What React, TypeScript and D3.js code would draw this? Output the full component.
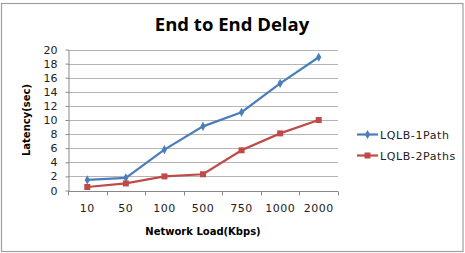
import React, { useEffect, useRef } from "react";
import * as d3 from "d3";

const categories = ["10", "50", "100", "500", "750", "1000", "2000"];
const onePath = [1.5, 1.8, 5.8, 9.1, 11.1, 15.2, 18.9];
const twoPaths = [0.5, 1.0, 2.0, 2.3, 5.7, 8.1, 10.0];
const seriesNames = ["LQLB-1Path", "LQLB-2Paths"];
const yTicks = [0, 2, 4, 6, 8, 10, 12, 14, 16, 18, 20];

function App() {
  const ref = useRef<SVGSVGElement>(null);

  useEffect(() => {
    const svg = d3.select(ref.current);
    svg.selectAll("*").remove();

    const width = 465;
    const height = 253;
    const margin = { top: 49.5, left: 68, right: 127, bottom: 62.5 };
    const font = "Tahoma, 'DejaVu Sans', sans-serif";

    // chart frame
    svg.append("rect")
      .attr("x", 1.5).attr("y", 3.5)
      .attr("width", width - 3.5).attr("height", height - 5)
      .attr("fill", "#fff").attr("stroke", "#a0a0a0").attr("stroke-width", 1.2);

    const x = d3.scaleBand().domain(categories).range([margin.left, width - margin.right]);
    const y = d3.scaleLinear().domain([0, 20]).range([height - margin.bottom, margin.top]);

    // gridlines
    svg.append("g")
      .selectAll("line")
      .data(yTicks.slice(1))
      .join("line")
      .attr("x1", margin.left).attr("x2", width - margin.right)
      .attr("y1", (d) => Math.round(y(d)) + 0.5).attr("y2", (d) => Math.round(y(d)) + 0.5)
      .attr("stroke", "#b4b4b4").attr("stroke-width", 1);

    // y axis
    const g_yaxis = svg.append("g")
      .attr("transform", `translate(${margin.left + 0.5},0)`)
      .call(d3.axisLeft(y).tickValues(yTicks).tickSize(3).tickSizeOuter(0));
    g_yaxis.select(".domain").attr("stroke", "#888");
    g_yaxis.selectAll(".tick line").attr("stroke", "#888");
    g_yaxis.selectAll("text")
      .attr("font-family", font).attr("font-size", 11).attr("fill", "#222")
      .attr("x", -11);

    // x axis, ticks between categories
    const y0 = Math.round(y(0)) + 0.5;
    const g_xaxis = svg.append("g");
    g_xaxis.append("line")
      .attr("x1", margin.left).attr("x2", width - margin.right)
      .attr("y1", y0).attr("y2", y0).attr("stroke", "#888");
    const bounds = categories.map((c) => x(c) as number).concat([width - margin.right]);
    g_xaxis.selectAll("line.tk")
      .data(bounds)
      .join("line")
      .attr("class", "tk")
      .attr("x1", (d) => Math.round(d) + 0.5).attr("x2", (d) => Math.round(d) + 0.5)
      .attr("y1", y0).attr("y2", y0 + 4)
      .attr("stroke", "#888");
    g_xaxis.selectAll("text")
      .data(categories)
      .join("text")
      .attr("x", (d) => (x(d) as number) + x.bandwidth() / 2)
      .attr("y", 212)
      .attr("text-anchor", "middle")
      .attr("font-family", font).attr("font-size", 11).attr("fill", "#222")
      .attr("letter-spacing", 0.5)
      .text((d) => d);

    // titles
    svg.append("text")
      .attr("x", 232).attr("y", 31)
      .attr("text-anchor", "middle")
      .attr("font-family", "'Open Sans', 'DejaVu Sans', sans-serif")
      .attr("font-weight", "bold").attr("font-size", 18.5)
      .text("End to End Delay");

    svg.append("text")
      .attr("x", 203).attr("y", 235)
      .attr("text-anchor", "middle")
      .attr("font-family", font).attr("font-weight", "bold").attr("font-size", 10)
      .text("Network Load(Kbps)");

    svg.append("text")
      .attr("transform", `translate(30,120) rotate(-90)`)
      .attr("text-anchor", "middle")
      .attr("font-family", font).attr("font-weight", "bold").attr("font-size", 10)
      .text("Latency(sec)");

    // lines
    const colors = ["#4A7EBB", "#BE4B48"];
    const series = [onePath, twoPaths];
    const cx = (i: number) => (x(categories[i]) as number) + x.bandwidth() / 2;
    const line = d3.line<number>().x((_, i) => cx(i)).y((d) => y(d));

    series.forEach((s, k) => {
      svg.append("path")
        .datum(s)
        .attr("d", line)
        .attr("fill", "none")
        .attr("stroke", colors[k])
        .attr("stroke-width", 2.2);
      if (k === 0) {
        svg.append("g").selectAll("path")
          .data(s)
          .join("path")
          .attr("d", d3.symbol(d3.symbolDiamond, 24) as any)
          .attr("transform", (d, i) => `translate(${cx(i)},${y(d)})`)
          .attr("fill", colors[k]);
      } else {
        svg.append("g").selectAll("rect")
          .data(s)
          .join("rect")
          .attr("x", (d, i) => cx(i) - 3).attr("y", (d) => y(d) - 3)
          .attr("width", 6).attr("height", 6)
          .attr("fill", colors[k]);
      }
    });

    // legend
    const legendY = [134.5, 155.5];
    seriesNames.forEach((name, k) => {
      const lg = svg.append("g");
      lg.append("line")
        .attr("x1", 357).attr("x2", 378)
        .attr("y1", legendY[k]).attr("y2", legendY[k])
        .attr("stroke", colors[k]).attr("stroke-width", 2.2);
      if (k === 0) {
        lg.append("path")
          .attr("d", d3.symbol(d3.symbolDiamond, 24) as any)
          .attr("transform", `translate(367.5,${legendY[k]})`)
          .attr("fill", colors[k]);
      } else {
        lg.append("rect")
          .attr("x", 364.5).attr("y", legendY[k] - 3)
          .attr("width", 6).attr("height", 6)
          .attr("fill", colors[k]);
      }
      lg.append("text")
        .attr("x", 380).attr("y", legendY[k] + 4)
        .attr("font-family", font).attr("font-size", 11).attr("fill", "#222")
        .attr("letter-spacing", 0.6)
        .text(name);
    });
  }, []);

  return (
    <div style={{ position: "absolute", left: 0, top: 0 }}>
      <svg ref={ref} width={465} height={253} style={{ display: "block", background: "#fff" }} />
    </div>
  );
}

export default App;
